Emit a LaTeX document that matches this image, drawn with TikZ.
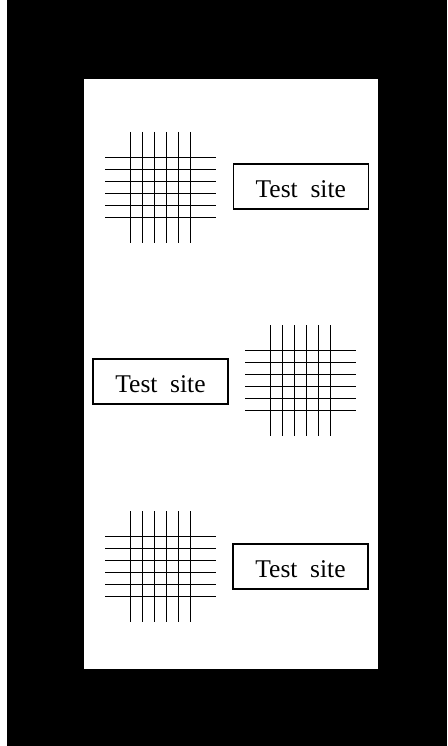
\documentclass[tikz,border=0pt]{standalone}
\usepackage{fontspec}
% serif label face with a wide word gap
\newfontfamily\labelfont[WordSpace=2]{Liberation Serif}
\begin{document}
\begin{tikzpicture}[x=1pt,y=-1pt,
  sitebox/.style={draw, line width=1.6pt, fill=white,
    minimum width=135pt, minimum height=45pt, inner sep=0pt,
    text height=22pt, text depth=0pt,
    font=\labelfont\fontsize{25.5}{29}\selectfont},
  meshline/.style={line width=1.6pt},
  mesh/.pic={
    \foreach \k in {-30,-18,-6,6,18,30}{
      \draw[meshline] (\k,-55.5) -- (\k,55.5);
      \draw[meshline] (-55.5,\k) -- (55.5,\k);
    }
  }]
  \useasboundingbox (0,0) rectangle (447,746);
  % frame: dark surround and white panel
  \fill[black] (7.3,0) rectangle (447,746);
  \fill[white] (84.3,78.7) rectangle (378.3,669.3);

  % three rows: wire mesh beside a test-site label
  \pic (meshA) at (160.5,187.5) {mesh};
  \node[sitebox] (siteA) at (300.8,186.7) {Test site};

  \node[sitebox] (siteB) at (160.5,381.7) {Test site};
  \pic (meshB) at (300.5,380.5) {mesh};

  \pic (meshC) at (160.5,566.5) {mesh};
  \node[sitebox] (siteC) at (300.5,566.7) {Test site};
\end{tikzpicture}
\end{document}
